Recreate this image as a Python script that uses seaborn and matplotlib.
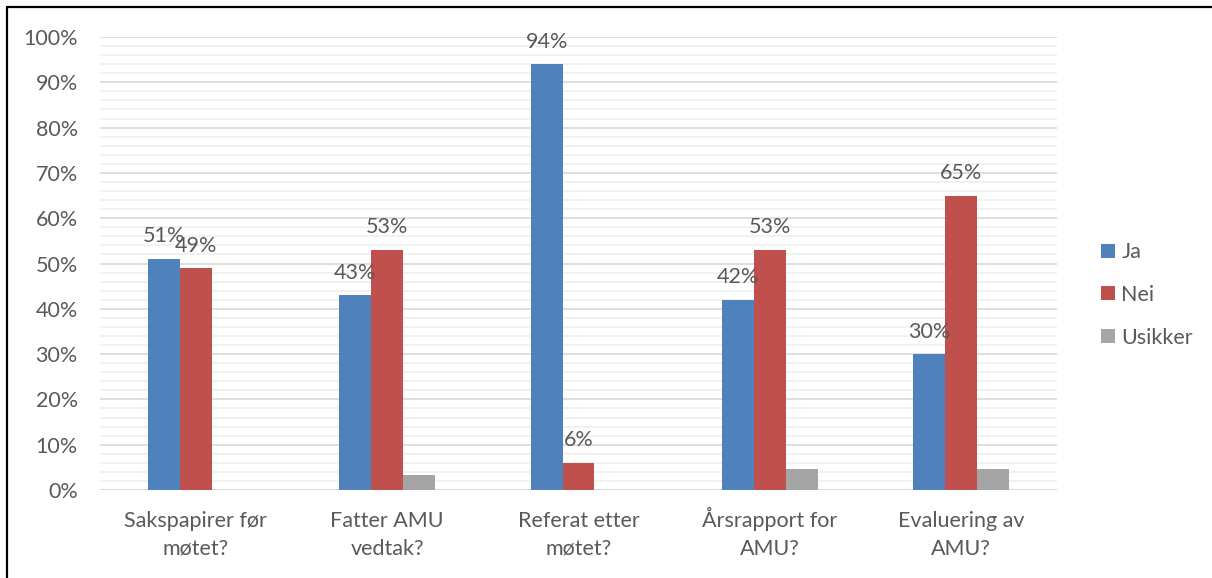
import matplotlib
matplotlib.use("Agg")
import matplotlib.pyplot as plt
from matplotlib.lines import Line2D
from matplotlib.ticker import MultipleLocator, PercentFormatter
import seaborn as sns
import pandas as pd

# Survey results per question (percent of respondents)
questions = ["Sakspapirer før\nmøtet?", "Fatter AMU\nvedtak?", "Referat etter\nmøtet?",
             "Årsrapport for\nAMU?", "Evaluering av\nAMU?"]
answers = ["Ja", "Nei", "Usikker"]
ja = [51, 43, 94, 42, 30]
nei = [49, 53, 6, 53, 65]
usikker = [0, 3.3, 0, 4.7, 4.7]
colors = ["#4F81BD", "#C0504D", "#A5A5A5"]

df = pd.DataFrame({
    "Spørsmål": questions * 3,
    "Svar": [a for a in answers for _ in questions],
    "Andel": ja + nei + usikker,
})

sns.set_theme(style="white")
plt.rcParams["font.family"] = ["Lato", "DejaVu Sans"]
text_color = "#595959"
fs = 15.5

fig = plt.figure(figsize=(12.12, 5.78), dpi=100)
ax = fig.add_axes([100 / 1212, 1 - 490 / 578, 957 / 1212, 453 / 578])

sns.barplot(data=df, x="Spørsmål", y="Andel", hue="Svar", order=questions,
            hue_order=answers, palette=colors, width=0.5, saturation=1,
            linewidth=0, ax=ax, legend=False)

ax.set_ylim(0, 100)
ax.set_xlim(-0.5, len(questions) - 0.5)
ax.yaxis.set_major_locator(MultipleLocator(10))
ax.yaxis.set_minor_locator(MultipleLocator(2))
ax.yaxis.set_major_formatter(PercentFormatter(decimals=0))
ax.set_axisbelow(True)
ax.grid(axis="y", which="minor", color="#F0F0F0", linewidth=1.3)
ax.grid(axis="y", which="major", color="#D9D9D9", linewidth=1.2)
ax.grid(axis="x", which="both", visible=False)
for s in ax.spines.values():
    s.set_visible(False)
ax.axhline(0, color="#D9D9D9", linewidth=1.2, zorder=0.5)

ax.set_xlabel("")
ax.set_ylabel("")
ax.tick_params(axis="both", which="both", length=0, labelsize=fs, labelcolor=text_color)
ax.tick_params(axis="y", pad=16)
# category labels aligned on the baseline of their last line
ax.tick_params(axis="x", pad=46.5)
for lbl in ax.get_xticklabels():
    lbl.set_linespacing(1.45)
    lbl.set_verticalalignment("baseline")

# Value labels on the Ja and Nei series only
for cont in ax.containers[:2]:
    ax.bar_label(cont, labels=[f"{v.get_height():.0f}%" for v in cont],
                 padding=9, fontsize=fs, color=text_color)

handles = [Line2D([], [], marker="s", linestyle="none", markersize=10.5,
                  markerfacecolor=c, markeredgewidth=0) for c in colors]
leg = fig.legend(handles, answers, loc="center left",
                 bbox_to_anchor=(1090 / 1212, 1 - 295 / 578), frameon=False,
                 fontsize=fs, labelspacing=1.05, handlelength=0.65,
                 handletextpad=0.3, borderpad=0)
for t in leg.get_texts():
    t.set_color(text_color)

# Chart frame (left and top edges)
fig.add_artist(Line2D([7 / 1212, 7 / 1212], [0, 1 - 7 / 578], color="black",
                      linewidth=1.6, transform=fig.transFigure))
fig.add_artist(Line2D([7 / 1212, 1], [1 - 7 / 578, 1 - 7 / 578], color="black",
                      linewidth=1.6, transform=fig.transFigure))

fig.savefig("out.png", dpi=100, facecolor="white")
